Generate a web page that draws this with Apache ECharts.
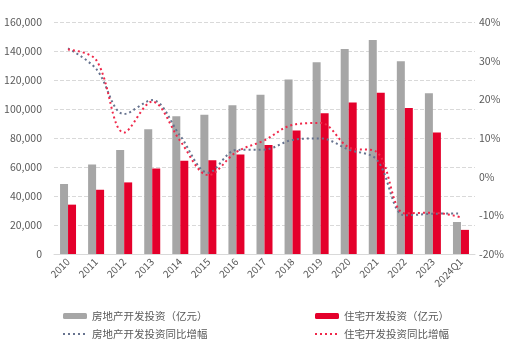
<!DOCTYPE html>
<html>
<head>
<meta charset="utf-8">
<script src="https://cdn.jsdelivr.net/npm/echarts@6/dist/echarts.min.js"></script>
<style>
  html, body { margin: 0; padding: 0; background: #fff; }
  #main { width: 528px; height: 354px; }
</style>
</head>
<body>
<div id="main"></div>
<script>
// 年份
const categories = ['2010', '2011', '2012', '2013', '2014', '2015', '2016', '2017', '2018', '2019', '2020', '2021', '2022', '2023', '2024Q1']
// 房地产开发投资（亿元）
const realEstateInvest = [48259, 61796, 71804, 86013, 95036, 95979, 102581, 109799, 120264, 132194, 141443, 147602, 132895, 110913, 22082]
// 住宅开发投资（亿元）
const housingInvest = [34038, 44308, 49374, 58951, 64352, 64595, 68704, 75148, 85192, 97071, 104446, 111173, 100646, 83820, 16639]
// 同比增幅（%）
const realEstateYoY = [33.2, 27.9, 16.2, 19.8, 10.5, 1.0, 6.9, 7.0, 9.5, 9.9, 7.0, 4.4, -10.0, -9.6, -9.5]
const housingYoY = [32.9, 30.2, 11.4, 19.4, 9.2, 0.4, 6.4, 9.4, 13.4, 13.9, 7.6, 6.4, -9.5, -9.3, -10.5]

const FONT = 'Noto Sans CJK SC, sans-serif'
const labelColor = '#595959'

const chart = echarts.init(document.getElementById('main'))

const legendText = { color: labelColor, fontSize: 10.5, fontFamily: FONT, lineHeight: 14 }
// 线条图例只画虚线，不画圆点
const lineItem = name => ({ name, itemStyle: { opacity: 0 } })

const option = {
    animation: false,
    textStyle: { fontFamily: FONT },
    grid: { left: 54, right: 53, top: 22, bottom: 100, containLabel: false },
    legend: [
        {
            left: 57, top: 304, orient: 'vertical', itemGap: 4,
            itemWidth: 24, itemHeight: 6,
            data: ['房地产开发投资（亿元）', lineItem('房地产开发投资同比增幅')],
            textStyle: legendText
        },
        {
            left: 309, top: 304, orient: 'vertical', itemGap: 4,
            itemWidth: 24, itemHeight: 6,
            data: ['住宅开发投资（亿元）', lineItem('住宅开发投资同比增幅')],
            textStyle: legendText
        }
    ],
    xAxis: {
        type: 'category',
        data: categories,
        axisLine: { lineStyle: { color: '#d9d9d9' } },
        axisTick: { show: false },
        axisLabel: { rotate: 45, color: labelColor, fontSize: 10, margin: 6, interval: 0 }
    },
    yAxis: [
        {
            type: 'value', min: 0, max: 160000, interval: 20000,
            axisLine: { show: false }, axisTick: { show: false },
            axisLabel: {
                color: labelColor, fontSize: 10.5, margin: 12,
                formatter: v => v.toLocaleString('en-US')
            },
            splitLine: { lineStyle: { color: '#d9d9d9', type: 'dashed' } }
        },
        {
            type: 'value', min: -20, max: 40, interval: 10,
            axisLine: { show: false }, axisTick: { show: false },
            axisLabel: { color: labelColor, fontSize: 10.5, margin: 4, formatter: '{value}%' },
            splitLine: { show: false }
        }
    ],
    series: [
        {
            name: '房地产开发投资（亿元）', type: 'bar', data: realEstateInvest,
            barWidth: 8, barGap: '0%',
            itemStyle: { color: '#a6a6a6' }
        },
        {
            name: '住宅开发投资（亿元）', type: 'bar', data: housingInvest,
            barWidth: 8, barGap: '0%',
            itemStyle: { color: '#e4002b' }
        },
        {
            name: '房地产开发投资同比增幅', type: 'line', yAxisIndex: 1, data: realEstateYoY,
            smooth: 0.35, symbol: 'none',
            lineStyle: { color: '#67738f', width: 2, type: [2, 3] },
            itemStyle: { color: '#67738f' }
        },
        {
            name: '住宅开发投资同比增幅', type: 'line', yAxisIndex: 1, data: housingYoY,
            smooth: 0.35, symbol: 'none',
            lineStyle: { color: '#f0284a', width: 2, type: [2, 3] },
            itemStyle: { color: '#f0284a' }
        }
    ]
}

chart.setOption(option)
</script>
</body>
</html>
